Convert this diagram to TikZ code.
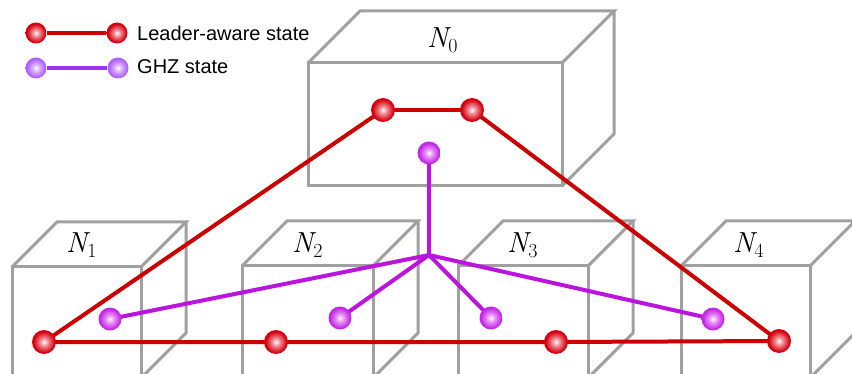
\documentclass[tikz,border=0pt]{standalone}
\usepackage{fontspec}
\newfontfamily\legendfont{Liberation Sans}
\definecolor{boxgray}{RGB}{160,160,160}
\definecolor{leadred}{RGB}{204,0,0}
\definecolor{rballmid}{RGB}{240,140,150}
\definecolor{rball}{RGB}{212,0,14}
\definecolor{rballdark}{RGB}{160,0,0}
\definecolor{ghzpurple}{RGB}{187,20,222}
\definecolor{pballmid}{RGB}{235,150,248}
\definecolor{pball}{RGB}{195,40,230}
\definecolor{pballdark}{RGB}{155,20,195}
\definecolor{legpurple}{RGB}{155,50,240}
\definecolor{lpballmid}{RGB}{220,180,255}
\definecolor{lpball}{RGB}{175,95,255}
\definecolor{lpballdark}{RGB}{135,55,225}
\pgfdeclareradialshading{redballsh}{\pgfpoint{0bp}{0bp}}{color(0bp)=(white); color(8bp)=(rballmid); color(22bp)=(rball); color(38bp)=(rball); color(50bp)=(rballdark)}
\pgfdeclareradialshading{purpballsh}{\pgfpoint{0bp}{0bp}}{color(0bp)=(white); color(8bp)=(pballmid); color(22bp)=(pball); color(38bp)=(pball); color(50bp)=(pballdark)}
\pgfdeclareradialshading{legpurpballsh}{\pgfpoint{0bp}{0bp}}{color(0bp)=(white); color(8bp)=(lpballmid); color(22bp)=(lpball); color(38bp)=(lpball); color(50bp)=(lpballdark)}
\tikzset{
  boxline/.style={draw=boxgray, line width=3pt, line join=miter},
  redline/.style={draw=leadred, line width=4pt},
  purpline/.style={draw=ghzpurple, line width=4pt},
  legpurpline/.style={draw=legpurple, line width=4pt},
  redball/.style={circle, minimum size=24pt, inner sep=0pt, shading=redballsh},
  purpball/.style={circle, minimum size=23pt, inner sep=0pt, shading=purpballsh},
  legpurpball/.style={circle, minimum size=21pt, inner sep=0pt, shading=legpurpballsh},
  legredball/.style={circle, minimum size=21pt, inner sep=0pt, shading=redballsh},
  boxlabel/.style={anchor=base west, inner sep=0pt, font=\fontsize{29}{32}\selectfont},
  legtext/.style={anchor=base west, inner sep=0pt, font=\legendfont\fontsize{20}{24}\selectfont},
}
\newcommand\boxname[1]{{\itshape N}\raisebox{-4.5pt}{\fontsize{20}{22}\selectfont #1}}
\newcommand\cubebox[5]{%
  \draw[boxline] (#1,#4) rectangle (#3,#2);
  \draw[boxline] (#1,#2) -- ({#1+#5},{#2-#5}) -- ({#3+#5},{#2-#5}) -- (#3,#2);
  \draw[boxline] ({#3+#5},{#2-#5}) -- ({#3+#5},{#4-#5}) -- (#3,#4);
}
\begin{document}
\begin{tikzpicture}[x=1pt,y=-1pt]
\useasboundingbox (0,0) rectangle (852,374);
\clip (0,0) rectangle (852,374);
\fill[white] (0,0) rectangle (852,374);
% boxes
\cubebox{308}{63}{562}{186}{52}
\cubebox{12}{267}{141}{378}{45}
\cubebox{242}{266}{373}{378}{45}
\cubebox{458}{266}{588}{378}{45}
\cubebox{681}{266}{810}{378}{45}
% labels
\node[boxlabel] (l0) at (427,48) {\boxname{0}};
\node[boxlabel] (l1) at (66,253) {\boxname{1}};
\node[boxlabel] (l2) at (292,253) {\boxname{2}};
\node[boxlabel] (l3) at (507,253) {\boxname{3}};
\node[boxlabel] (l4) at (733,253) {\boxname{4}};
% coordinates for balls
\coordinate (hub) at (429,255);
\coordinate (pr0) at (383,110);
\coordinate (pr1) at (472,110);
\coordinate (pr2) at (44,342);
\coordinate (pr3) at (276,342);
\coordinate (pr4) at (556,342);
\coordinate (pr5) at (779,341);
\coordinate (pp0) at (429,153);
\coordinate (pp1) at (110,319);
\coordinate (pp2) at (340,318);
\coordinate (pp3) at (491,318);
\coordinate (pp4) at (713,319);
% connectors
\draw[purpline] (pp0) -- (hub);
\draw[purpline] (hub) -- (pp1);
\draw[purpline] (hub) -- (pp2);
\draw[purpline] (hub) -- (pp3);
\draw[purpline] (hub) -- (pp4);
\draw[redline] (pr0) -- (pr1);
\draw[redline] (pr0) -- (pr2);
\draw[redline] (pr1) -- (pr5);
\draw[redline] (pr2) -- (pr3) -- (pr4) -- (pr5);
% balls
\foreach \n in {pr0,pr1,pr2,pr3,pr4,pr5} \node[redball] (b\n) at (\n) {};
\foreach \n in {pp0,pp1,pp2,pp3,pp4} \node[purpball] (b\n) at (\n) {};
% legend
\node[legredball] (lr1) at (36,33) {};
\node[legredball] (lr2) at (117,33) {};
\node[legpurpball] (lp1) at (36,68) {};
\node[legpurpball] (lp2) at (118,68) {};
\draw[redline] (lr1) -- (lr2);
\draw[legpurpline] (lp1) -- (lp2);
\node[legtext] (t1) at (137,41) {Leader-aware state};
\node[legtext] (t2) at (137,74) {GHZ state};
\end{tikzpicture}
\end{document}
